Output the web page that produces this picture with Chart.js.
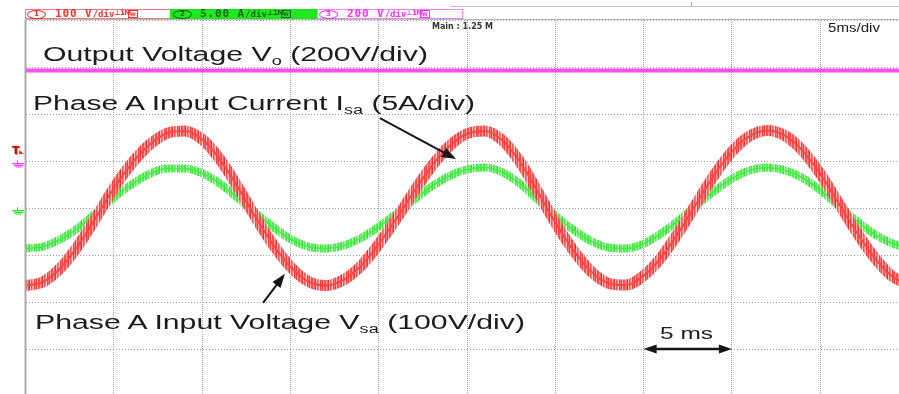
<!DOCTYPE html>
<html>
<head>
<meta charset="utf-8">
<script src="https://cdn.jsdelivr.net/npm/chart.js@4.4.0/dist/chart.umd.min.js"></script>
<style>
  html, body { margin: 0; padding: 0; background: #fff; overflow: hidden; }
  #wrap { position: relative; width: 899px; height: 394px; overflow: hidden; }
  #scope { position: absolute; left: 0; top: 0; }
  .lbl { position: absolute; font-family: "Liberation Sans", Arial, sans-serif; font-size: 20px; line-height: 20px;
         color: #1c1c1c; white-space: nowrap; transform-origin: 0 0; }
  .lbl .sub { font-size: 12px; position: relative; top: 4px; }
  .chbox { position: absolute; top: 9px; height: 10px; box-sizing: border-box; border: 1px solid; }
  .chbox span { position: absolute; top: -2px; white-space: nowrap; }
  .oval { width: 17px; height: 7px; border: 1px solid; border-radius: 50%; font: bold 7px "DejaVu Sans", sans-serif;
          line-height: 7px; text-align: center; top: 0 !important; }
  .val { font: bold 11px "DejaVu Sans Mono", monospace; letter-spacing: 0.9px; line-height: 11px; }
  .val small { font-size: 9px; letter-spacing: 0px; }
  .ico { font: bold 7px "DejaVu Sans", sans-serif; line-height: 10px; letter-spacing: -0.5px; }
  .bw { width: 8px; height: 6px; border: 1px solid; top: 0 !important; font: bold 5px "DejaVu Sans", sans-serif;
        line-height: 6px; text-align: center; }
  #mainInfo { position: absolute; left: 432px; top: 22px; font: bold 8px "DejaVu Sans", sans-serif; color: #333; }
  #timebase { position: absolute; left: 828px; top: 21px; font: 12px "Liberation Sans", Arial, sans-serif;
              color: #1c1c1c; transform-origin: 0 0; }
  #topRule { position: absolute; left: 450px; top: 6px; width: 449px; height: 1px; background: #c4c4c4; }
  #topTick { position: absolute; left: 691px; top: 2px; width: 1px; height: 5px; background: #aaa; }
</style>
</head>
<body>
<div id="wrap">
  <canvas id="scope" width="920" height="400"></canvas>

  <div id="topRule"></div>
  <div id="topTick"></div>

  <div class="chbox" style="left:25px; width:146px; border-color:#ff7a7a; background:#fff; color:#ff2e2e;">
    <span class="oval" style="left:1px;">1</span>
    <span class="val" style="left:29px;">100 V<small>/div</small></span>
    <span class="ico" style="left:88px;">⊥1M</span>
    <span class="bw" style="left:102px;">W</span>
  </div>
  <div class="chbox" style="left:170px; width:148px; border-color:#1de01d; background:#1ee81e; color:#17651a;">
    <span class="oval" style="left:2px;">2</span>
    <span class="val" style="left:29px;">5.00 A<small>/div</small></span>
    <span class="ico" style="left:96px;">⊥1M</span>
    <span class="bw" style="left:110px;">W</span>
  </div>
  <div class="chbox" style="left:317px; width:146px; border-color:#ff88ff; background:#fff; color:#ff2cff;">
    <span class="oval" style="left:1px;">3</span>
    <span class="val" style="left:29px;">200 V<small>/div</small></span>
    <span class="ico" style="left:88px;">⊥1M</span>
    <span class="bw" style="left:102px;">W</span>
  </div>

  <div id="mainInfo">Main : 1.25 M</div>
  <div id="timebase">5ms/div</div>

  <div class="lbl" id="lblVo" style="left:43px; top:44px;">Output Voltage V<span class="sub">o</span> (200V/div)</div>
  <div class="lbl" id="lblIsa" style="left:33px; top:93px;">Phase A Input Current I<span class="sub">sa</span> (5A/div)</div>
  <div class="lbl" id="lblVsa" style="left:35px; top:312px;">Phase A Input Voltage V<span class="sub">sa</span> (100V/div)</div>
  <div class="lbl" id="lblSpan" style="left:660px; top:325px; font-size:17px; line-height:17px;">5 ms</div>
</div>

<script>
// sample times across the 10 divisions of the screen (ms)
const timeMs = [0, 1, 2, 3, 4, 5, 6, 7, 8, 9, 10, 11, 12, 13, 14, 15, 16, 17, 18, 19, 20,
                21, 22, 23, 24, 25, 26, 27, 28, 29, 30, 31, 32, 33, 34, 35, 36, 37, 38, 39, 40,
                41, 42, 43, 44, 45, 46, 47, 48, 49, 50];

// CH1: phase A input voltage (V)
const vsaVolts = [-165, -157, -127, -79, -20, 42, 94, 134, 159, 164,
                  146, 104, 46, -18, -77, -125, -156, -165, -153, -123,
                  -77, -23, 35, 89, 132, 158, 164, 144, 98, 35,
                  -31, -89, -134, -160, -164, -144, -105, -51, 10, 70,
                  120, 153, 165, 154, 122, 73, 13, -48, -102, -143, -163];

// CH2: phase A input current (A)
const isaAmps = [-4.3, -4.1, -3.3, -2.1, -0.5, 1.1, 2.5, 3.6, 4.2, 4.2,
                 3.7, 2.6, 1.1, -0.5, -2.0, -3.3, -4.1, -4.3, -4.0, -3.2,
                 -2.0, -0.6, 0.9, 2.3, 3.4, 4.1, 4.3, 3.8, 2.6, 0.9,
                 -0.8, -2.3, -3.5, -4.2, -4.3, -3.8, -2.7, -1.3, 0.3, 1.8,
                 3.1, 4.0, 4.3, 4.0, 3.2, 1.9, 0.3, -1.3, -2.7, -3.7, -4.3];

// CH3: DC output voltage (V)
const voTime = [0, 50];
const voVolts = [385, 385];

// channel settings: volts (or amps) per division and ground marker position (div)
const chPerDiv = [100, 5, 200];
const chGround = [0, 0, 1];
const triggerLevel = 115; // V on CH1

// annotation arrows in (ms, div)
const isaArrow = [[20.07, 1.91], [24.38, 1.04]];
const vsaArrow = [[13.45, -2.02], [14.69, -1.40]];
const spanArrow = [[35, -3], [40, -3]];

function toDiv(times, values, ch) {
  return times.map((t, i) => ({ x: t, y: chGround[ch] + values[i] / chPerDiv[ch] }));
}

// thin vertical stripes give the traces their ragged, switching-noise look
function stripes(colors) {
  const c = document.createElement('canvas');
  c.width = colors.length;
  c.height = 1;
  const g = c.getContext('2d');
  colors.forEach((col, i) => { g.fillStyle = col; g.fillRect(i, 0, 1, 1); });
  return g.createPattern(c, 'repeat');
}

function arrowHead(ctx, x0, y0, x1, y1, len, half) {
  const a = Math.atan2(y1 - y0, x1 - x0);
  ctx.beginPath();
  ctx.moveTo(x1, y1);
  ctx.lineTo(x1 - len * Math.cos(a) + half * Math.sin(a), y1 - len * Math.sin(a) - half * Math.cos(a));
  ctx.lineTo(x1 - len * Math.cos(a) - half * Math.sin(a), y1 - len * Math.sin(a) + half * Math.cos(a));
  ctx.closePath();
  ctx.fill();
}

function groundMark(ctx, gy, light, dark) {
  ctx.fillStyle = light;
  ctx.fillRect(12, gy + 2, 13, 2);
  ctx.fillRect(14, gy + 4, 9, 2);
  ctx.fillRect(16, gy + 6, 5, 1);
  ctx.fillStyle = dark;
  ctx.fillRect(17, gy - 1, 1, 3);
  ctx.fillRect(13, gy + 2, 11, 1);
  ctx.fillRect(15, gy + 4, 7, 1);
}

const overlay = {
  id: 'overlay',
  afterDatasetsDraw(chart) {
    const { ctx, chartArea, scales: { x, y } } = chart;
    ctx.save();

    // solid frame on the left and top of the graticule
    ctx.fillStyle = '#a9a9a9';
    ctx.fillRect(chartArea.left - 1, chartArea.top, 2, chartArea.bottom - chartArea.top);
    ctx.fillStyle = '#b8b8b8';
    ctx.fillRect(chartArea.left, chartArea.top - 1, chartArea.right - chartArea.left, 1);

    // ground markers for CH3 and CH2
    groundMark(ctx, Math.round(y.getPixelForValue(chGround[2])), '#ff9cff', '#ff3cff');
    groundMark(ctx, Math.round(y.getPixelForValue(chGround[1])), '#8cf58c', '#33dd33');

    // trigger level marker
    const ty = y.getPixelForValue(chGround[0] + triggerLevel / chPerDiv[0]);
    ctx.fillStyle = '#ff7070';
    ctx.font = 'bold 11px "DejaVu Sans", sans-serif';
    ctx.fillText('T', 13, ty + 1);
    ctx.fillStyle = '#c80000';
    ctx.fillText('T', 12, ty);
    ctx.fillStyle = '#ff3030';
    ctx.beginPath();
    ctx.moveTo(19, ty - 4);
    ctx.lineTo(24, ty);
    ctx.lineTo(19, ty);
    ctx.closePath();
    ctx.fill();

    // pointer arrows
    ctx.strokeStyle = '#161616';
    ctx.fillStyle = '#161616';
    ctx.lineWidth = 2;
    [isaArrow, vsaArrow].forEach(([a, b]) => {
      const x0 = x.getPixelForValue(a[0]), y0 = y.getPixelForValue(a[1]);
      const x1 = x.getPixelForValue(b[0]), y1 = y.getPixelForValue(b[1]);
      const ang = Math.atan2(y1 - y0, x1 - x0);
      ctx.beginPath();
      ctx.moveTo(x0, y0);
      ctx.lineTo(x1 - 10 * Math.cos(ang), y1 - 10 * Math.sin(ang));
      ctx.stroke();
      arrowHead(ctx, x0, y0, x1, y1, 14, 5);
    });

    // 5 ms span arrow
    const sx0 = x.getPixelForValue(spanArrow[0][0]), sx1 = x.getPixelForValue(spanArrow[1][0]);
    const sy = y.getPixelForValue(spanArrow[0][1]);
    ctx.lineWidth = 2.5;
    ctx.beginPath();
    ctx.moveTo(sx0 + 10, sy);
    ctx.lineTo(sx1 - 10, sy);
    ctx.stroke();
    arrowHead(ctx, sx1, sy, sx0, sy, 13, 4.5);
    arrowHead(ctx, sx0, sy, sx1, sy, 13, 4.5);

    ctx.restore();
  }
};

const redBand = stripes(['#ff4a4a', '#ff9c9c', '#ff6060', '#e83030', '#ffc8c8', '#ff5454', '#ff8080',
                         '#ffd6d6', '#ff3c3c', '#ff7474', '#f04040', '#ffb4b4', '#ff5050']);
const greenBand = stripes(['#44ec44', '#a6f7a6', '#5af05a', '#34dc34', '#cdfbcd', '#50ee50', '#88f488',
                           '#dafcda', '#3ee63e', '#7af27a', '#48e848', '#b8f9b8', '#56ee56']);

new Chart(document.getElementById('scope'), {
  type: 'line',
  data: {
    datasets: [
      { data: toDiv(voTime, voVolts, 2), borderColor: '#ff4cf2', borderWidth: 4, order: 5 },
      { data: toDiv(timeMs, isaAmps, 1), borderColor: greenBand, borderWidth: 8, order: 4 },
      { data: toDiv(timeMs, isaAmps, 1), borderColor: '#4ae64a', borderWidth: 1.5, order: 3 },
      { data: toDiv(timeMs, vsaVolts, 0), borderColor: redBand, borderWidth: 11, order: 2 },
      { data: toDiv(timeMs, vsaVolts, 0), borderColor: '#ff4444', borderWidth: 2, order: 1 }
    ]
  },
  options: {
    responsive: false,
    animation: false,
    events: [],
    elements: {
      point: { radius: 0 },
      line: { cubicInterpolationMode: 'monotone', fill: false }
    },
    layout: { padding: { left: 25.5, top: 20, right: 11.5, bottom: 4 } },
    plugins: { legend: { display: false }, tooltip: { enabled: false } },
    scales: {
      x: {
        type: 'linear', min: 0, max: 50,
        ticks: { display: false, stepSize: 5 },
        grid: { color: '#aaaaaa', drawTicks: false },
        border: { display: false, dash: [1, 1] }
      },
      y: {
        type: 'linear', min: -4, max: 4,
        ticks: { display: false, stepSize: 1 },
        grid: { color: '#9c9c9c', drawTicks: false },
        border: { display: false, dash: [1, 2] }
      }
    }
  },
  plugins: [overlay]
});

// stretch the captions to their spans on screen
const captionWidths = { lblVo: 385, lblIsa: 442, lblVsa: 490, lblSpan: 53, timebase: 52 };
Object.keys(captionWidths).forEach(id => {
  const el = document.getElementById(id);
  const w = el.getBoundingClientRect().width;
  el.style.transform = 'scaleX(' + (captionWidths[id] / w) + ')';
});
</script>
</body>
</html>
